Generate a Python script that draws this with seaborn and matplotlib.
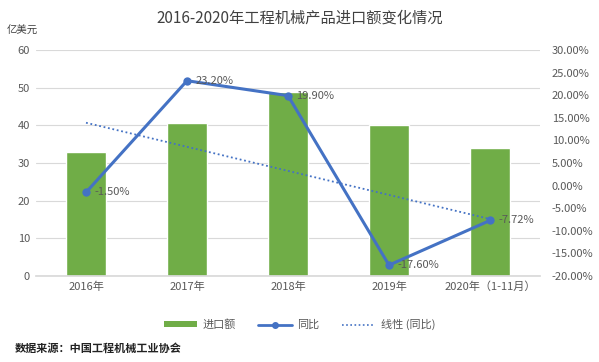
import seaborn as sns
import matplotlib.pyplot as plt
import matplotlib.ticker as mticker
from matplotlib.lines import Line2D
from matplotlib.patches import Patch
import pandas as pd
import numpy as np

years = ['2016年', '2017年', '2018年', '2019年', '2020年（1-11月）']
imports = [33.0, 40.7, 48.8, 40.1, 33.9]       # 亿美元
yoy = [-1.50, 23.20, 19.90, -17.60, -7.72]     # %

GREEN = '#70AD47'
BLUE = '#4472C4'
GRAY = '#595959'


def main():
    sns.set_theme(style='white')
    plt.rcParams['font.family'] = ['Noto Sans CJK SC', 'DejaVu Sans']

    df = pd.DataFrame({'year': years, 'imports': imports, 'yoy': yoy})
    df['x'] = np.arange(len(df))

    fig = plt.figure(figsize=(5.99, 3.62), dpi=100)
    ax = fig.add_axes([0.0593, 0.2376, 0.843, 0.6243])

    sns.barplot(ax=ax, data=df, x='year', y='imports', color=GREEN,
                width=0.4, saturation=1)
    ax.set_ylim(0, 60)
    ax.set_yticks(range(0, 61, 10))
    ax.set_xlim(-0.5, len(df) - 0.5)
    ax.yaxis.grid(True, color='#D9D9D9', linewidth=0.8)
    ax.set_axisbelow(True)
    ax.set_xlabel('')
    ax.set_ylabel('')
    ax.tick_params(axis='both', length=0, labelsize=8, labelcolor=GRAY, pad=4)
    for s in ['top', 'left', 'right']:
        ax.spines[s].set_visible(False)
    ax.spines['bottom'].set_color('#D9D9D9')

    ax2 = ax.twinx()
    sns.lineplot(ax=ax2, data=df, x='x', y='yoy', color=BLUE, linewidth=2.2,
                 marker='o', markersize=6, markeredgewidth=0)
    k, b = np.polyfit(df['x'], df['yoy'], 1)
    ax2.plot(df['x'], k * df['x'] + b, color=BLUE, linestyle=(0, (1, 1.5)),
             linewidth=1.3)
    for xi, v in zip(df['x'], df['yoy']):
        ax2.annotate(f'{v:.2f}%', (xi, v), xytext=(6, 0), textcoords='offset points',
                     ha='left', va='center', fontsize=8, color=GRAY)
    ax2.set_ylim(-20, 30)
    ax2.set_yticks(range(-20, 31, 5))
    ax2.yaxis.set_major_formatter(mticker.FuncFormatter(lambda v, p: f'{v:.2f}%'))
    ax2.set_ylabel('')
    ax2.set_xlabel('')
    ax2.tick_params(axis='y', length=0, labelsize=8, labelcolor=GRAY, pad=8)
    for s in ax2.spines.values():
        s.set_visible(False)
    ax2.set_xlim(-0.5, len(df) - 0.5)

    fig.text(0.5, 0.95, '2016-2020年工程机械产品进口额变化情况', ha='center', va='center',
             fontsize=11, color='#404040')
    fig.text(0.012, 0.915, '亿美元', ha='left', va='center', fontsize=7.5, color='#404040')
    fig.text(0.025, 0.038, '数据来源：中国工程机械工业协会', ha='left', va='center',
             fontsize=8, color='#222222', fontweight='bold')

    handles = [Patch(facecolor=GREEN, edgecolor='none'),
               Line2D([], [], color=BLUE, linewidth=2, marker='o', markersize=4),
               Line2D([], [], color=BLUE, linewidth=1.2, linestyle=(0, (1, 1.5)))]
    fig.legend(handles, ['进口额', '同比', '线性 (同比)'], loc='center',
               bbox_to_anchor=(0.5, 0.103), ncol=3, frameon=False, fontsize=8,
               labelcolor=GRAY, handlelength=3, handleheight=0.5,
               columnspacing=2, handletextpad=0.5)

    fig.savefig('out.png', dpi=100)


if __name__ == '__main__':
    main()
